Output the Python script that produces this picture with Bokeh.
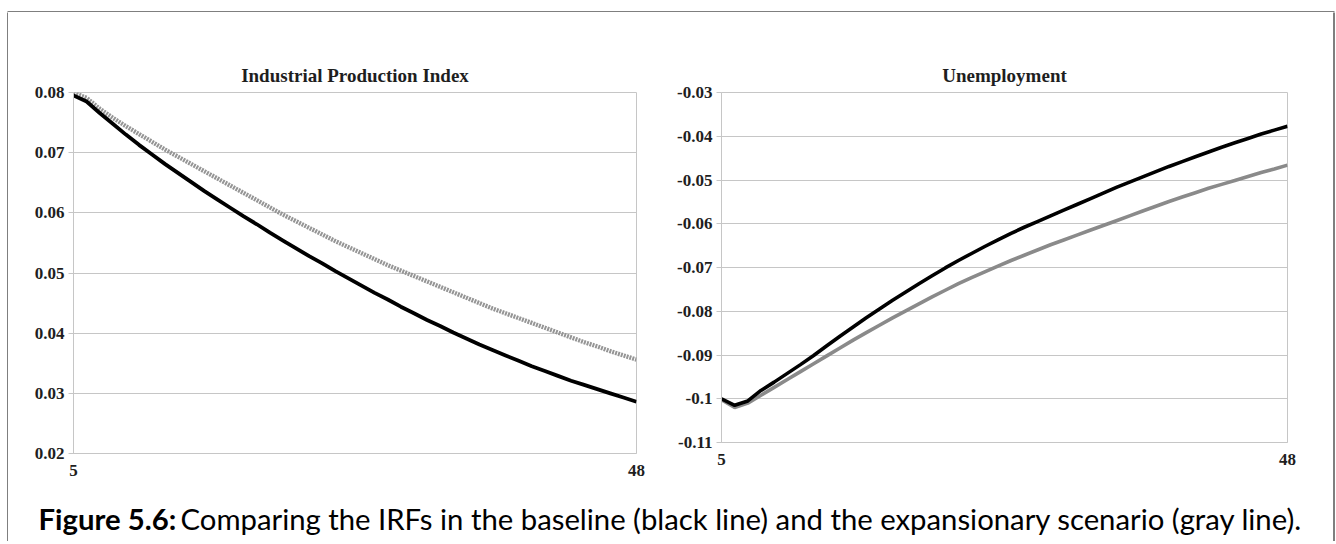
from bokeh.plotting import figure
from bokeh.models import Range1d, FixedTicker, Label, Row, Column
from bokeh.embed import file_html
from bokeh.resources import INLINE

# ---------------- data ----------------
periods = list(range(5, 49))

ipi_baseline = [0.0795, 0.0785, 0.0766, 0.0748, 0.0730, 0.0713, 0.0697, 0.0681, 0.0666, 0.0651,
                0.0636, 0.0622, 0.0608, 0.0594, 0.0581, 0.0567, 0.0554, 0.0541, 0.0528, 0.0516,
                0.0503, 0.0491, 0.0479, 0.0467, 0.0456, 0.0444, 0.0433, 0.0422, 0.0412, 0.0401,
                0.0391, 0.0381, 0.0372, 0.0363, 0.0354, 0.0345, 0.0337, 0.0329, 0.0321, 0.0314,
                0.0307, 0.0300, 0.0293, 0.0286]
ipi_expansion = [0.0800, 0.0791, 0.0773, 0.0758, 0.0744, 0.0731, 0.0718, 0.0705, 0.0693, 0.0681,
                 0.0669, 0.0657, 0.0645, 0.0633, 0.0621, 0.0609, 0.0597, 0.0586, 0.0575, 0.0564,
                 0.0553, 0.0543, 0.0533, 0.0523, 0.0513, 0.0504, 0.0495, 0.0486, 0.0477, 0.0468,
                 0.0459, 0.0450, 0.0441, 0.0433, 0.0425, 0.0417, 0.0409, 0.0401, 0.0393, 0.0385,
                 0.0378, 0.0370, 0.0363, 0.0356]
unemp_baseline = [-0.1000, -0.1015, -0.1005, -0.0981, -0.0962, -0.0942, -0.0922, -0.0901, -0.0879, -0.0857,
                  -0.0836, -0.0815, -0.0795, -0.0775, -0.0756, -0.0737, -0.0719, -0.0701, -0.0684, -0.0668,
                  -0.0652, -0.0637, -0.0622, -0.0608, -0.0595, -0.0582, -0.0569, -0.0556, -0.0543, -0.0530,
                  -0.0517, -0.0505, -0.0493, -0.0481, -0.0469, -0.0458, -0.0447, -0.0436, -0.0425, -0.0415,
                  -0.0405, -0.0395, -0.0386, -0.0377]
unemp_expansion = [-0.1002, -0.1020, -0.1010, -0.0992, -0.0974, -0.0956, -0.0938, -0.0920, -0.0902, -0.0884,
                   -0.0866, -0.0849, -0.0832, -0.0815, -0.0799, -0.0783, -0.0767, -0.0752, -0.0737, -0.0723,
                   -0.0710, -0.0697, -0.0684, -0.0672, -0.0660, -0.0648, -0.0637, -0.0626, -0.0615, -0.0604,
                   -0.0593, -0.0582, -0.0571, -0.0560, -0.0549, -0.0539, -0.0529, -0.0519, -0.0510, -0.0501,
                   -0.0492, -0.0483, -0.0475, -0.0466]

x_ticks = [5, 48]
ipi_ticks = [0.02, 0.03, 0.04, 0.05, 0.06, 0.07, 0.08]
ipi_tick_labels = ["0.02", "0.03", "0.04", "0.05", "0.06", "0.07", "0.08"]
unemp_ticks = [-0.11, -0.10, -0.09, -0.08, -0.07, -0.06, -0.05, -0.04, -0.03]
unemp_tick_labels = ["-0.11", "-0.1", "-0.09", "-0.08", "-0.07", "-0.06", "-0.05", "-0.04", "-0.03"]

titles = ["Industrial Production Index", "Unemployment"]
caption_bold = "Figure 5.6:"
caption_text = "Comparing the IRFs in the baseline (black line) and the expansionary scenario (gray line)."

# ---------------- styling ----------------
GRID = "#c6c6c6"
TEXT = "#1e1e1e"
SERIF = "Liberation Serif"
CAP_FONT = "Lato"


def strip(w, h, l, r, t, b):
    f = figure(width=w, height=h, min_border_left=l, min_border_right=r,
               min_border_top=t, min_border_bottom=b,
               x_range=Range1d(0, 1), y_range=Range1d(0, 1),
               toolbar_location=None, x_axis_location=None, y_axis_location=None,
               output_backend="svg", background_fill_color="black",
               border_fill_color="white", outline_line_color=None)
    f.grid.visible = False
    return f


def chart(title, w, h, l, r, t, b, y_lo, y_hi, ticks, labels):
    p = figure(width=w, height=h, min_border_left=l, min_border_right=r,
               min_border_top=t, min_border_bottom=b,
               x_range=Range1d(5, 48), y_range=Range1d(y_lo, y_hi),
               toolbar_location=None, output_backend="svg", title=title,
               background_fill_color="white", border_fill_color="white")
    p.title.align = "center"
    p.title.text_font = SERIF
    p.title.text_font_size = "19px"
    p.title.text_font_style = "bold"
    p.title.text_color = TEXT
    p.title.standoff = 13
    p.outline_line_color = GRID
    p.xgrid.visible = False
    p.ygrid.ticker = FixedTicker(ticks=ticks)
    p.ygrid.grid_line_color = GRID
    p.ygrid.grid_line_width = 1

    p.yaxis.ticker = FixedTicker(ticks=ticks)
    p.yaxis.major_label_overrides = dict(zip(ticks, labels))
    p.yaxis.axis_line_color = GRID
    p.yaxis.major_tick_line_color = GRID
    p.yaxis.major_tick_in = 0
    p.yaxis.major_tick_out = 5
    p.yaxis.minor_tick_line_color = None
    p.yaxis.major_label_standoff = 4

    p.xaxis.ticker = FixedTicker(ticks=x_ticks)
    p.xaxis.axis_line_color = GRID
    p.xaxis.major_tick_line_color = None
    p.xaxis.major_tick_in = 0
    p.xaxis.major_tick_out = 0
    p.xaxis.minor_tick_line_color = None
    p.xaxis.major_label_standoff = 11

    for ax in (p.xaxis, p.yaxis):
        ax.major_label_text_font = SERIF
        ax.major_label_text_font_size = "17px"
        ax.major_label_text_font_style = "bold"
        ax.major_label_text_color = TEXT
    return p


# left chart: Industrial Production Index (frame 361 px tall)
f1 = chart(titles[0], 662, 476, 65, 34, 80, 35, 0.02, 0.08, ipi_ticks, ipi_tick_labels)
f1.line(periods, ipi_expansion, line_color="#959595", line_width=4.4, line_dash="2 1")
f1.line(periods, ipi_baseline, line_color="black", line_width=3.8)

# right chart: Unemployment (frame 350 px tall)
f2 = chart(titles[1], 663, 465, 51, 46, 80, 35, -0.11, -0.03, unemp_ticks, unemp_tick_labels)
f2.line(periods, unemp_expansion, line_color="#8a8a8a", line_width=3.6)
f2.line(periods, unemp_baseline, line_color="black", line_width=3.6)

# caption
f3 = figure(width=1325, height=53, min_border_left=0, min_border_right=0,
            min_border_top=0, min_border_bottom=0,
            x_range=Range1d(0, 1325), y_range=Range1d(0, 53),
            toolbar_location=None, x_axis_location=None, y_axis_location=None,
            output_backend="svg", outline_line_color=None,
            background_fill_color="white", border_fill_color="white")
f3.grid.visible = False
f3.add_layout(Label(x=30, y=23, text=caption_bold, text_font=CAP_FONT,
                    text_font_size="29.3px", text_font_style="bold", text_color="black",
                    text_baseline="alphabetic", text_align="left"))
f3.add_layout(Label(x=172, y=23, text=caption_text, text_font=CAP_FONT,
                    text_font_size="29.3px", text_font_style="normal", text_color="black",
                    text_baseline="alphabetic", text_align="left"))

# frame strips (outer black border)
top = strip(1336, 12, 7, 2, 11, 0)
bottom = strip(1336, 3, 7, 2, 0, 2)
left = strip(8, 529, 7, 0, 0, 0)
right = strip(3, 529, 0, 2, 0, 0)

charts = Row(children=[Column(children=[f1]), Column(children=[f2])], spacing=0)
inner = Column(children=[charts, f3], spacing=0)
mid = Row(children=[left, inner, right], spacing=0)
layout = Column(children=[top, mid, bottom], spacing=0)

open("out.html", "w").write(file_html(layout, INLINE))
